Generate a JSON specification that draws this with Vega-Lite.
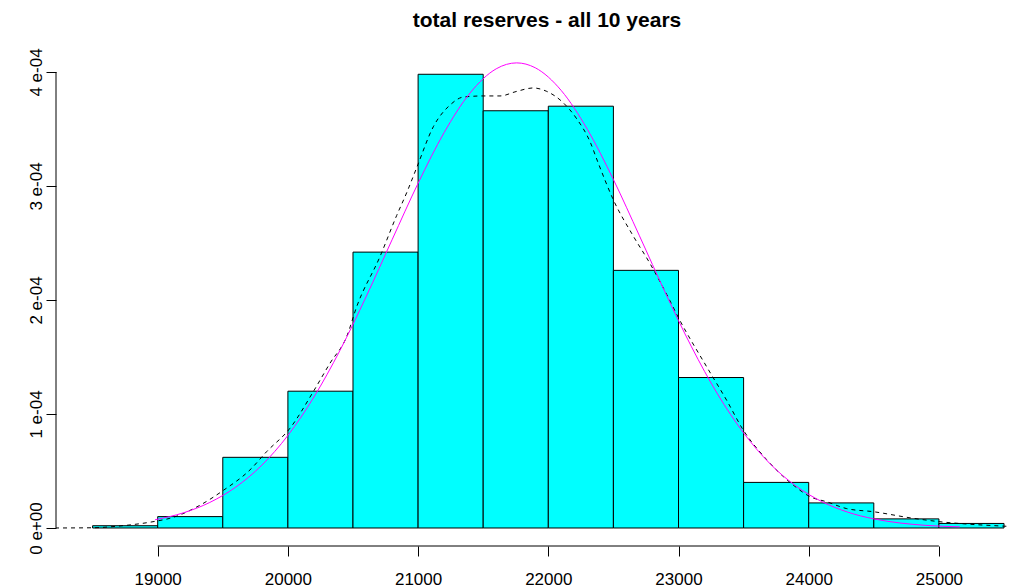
{
  "$schema": "https://vega.github.io/schema/vega-lite/v6.json",
  "width": 954,
  "height": 502,
  "autosize": {"type": "none"},
  "padding": {"left": 56, "top": 44, "right": 0, "bottom": 41},
  "background": "white",
  "config": {"view": {"stroke": null}, "font": "Liberation Sans"},
  "title": {"text": "total reserves - all 10 years", "fontSize": 21, "fontWeight": "bold", "font": "Liberation Sans", "color": "black", "anchor": "middle", "dx": 14, "offset": 13},
  "datasets": {
    "bars": [
      {"start": 18500, "end": 19000, "density": 0.000002},
      {"start": 19000, "end": 19500, "density": 0.000010},
      {"start": 19500, "end": 20000, "density": 0.000062},
      {"start": 20000, "end": 20500, "density": 0.000120},
      {"start": 20500, "end": 21000, "density": 0.000242},
      {"start": 21000, "end": 21500, "density": 0.000398},
      {"start": 21500, "end": 22000, "density": 0.000366},
      {"start": 22000, "end": 22500, "density": 0.000370},
      {"start": 22500, "end": 23000, "density": 0.000226},
      {"start": 23000, "end": 23500, "density": 0.000132},
      {"start": 23500, "end": 24000, "density": 0.000040},
      {"start": 24000, "end": 24500, "density": 0.000022},
      {"start": 24500, "end": 25000, "density": 0.000008},
      {"start": 25000, "end": 25500, "density": 0.000004}
    ],
    "kde": [
      {"x": 18150, "density": 0},
      {"x": 18495, "density": 0.0000002},
      {"x": 18711, "density": 0.0000018},
      {"x": 18992, "density": 0.0000061},
      {"x": 19094, "density": 0.0000085},
      {"x": 19325, "density": 0.000020},
      {"x": 19504, "density": 0.000033},
      {"x": 19709, "density": 0.000051},
      {"x": 19837, "density": 0.000067},
      {"x": 20016, "density": 0.0000875},
      {"x": 20195, "density": 0.0001196},
      {"x": 20323, "density": 0.0001445},
      {"x": 20452, "density": 0.000168},
      {"x": 20528, "density": 0.000194},
      {"x": 20707, "density": 0.000238},
      {"x": 20835, "density": 0.000274},
      {"x": 20912, "density": 0.000294},
      {"x": 20989, "density": 0.000316},
      {"x": 21117, "density": 0.000352},
      {"x": 21245, "density": 0.000371},
      {"x": 21347, "density": 0.000378},
      {"x": 21501, "density": 0.000379},
      {"x": 21629, "density": 0.000379},
      {"x": 21757, "density": 0.000383},
      {"x": 21885, "density": 0.000386},
      {"x": 21988, "density": 0.000383},
      {"x": 22115, "density": 0.000373},
      {"x": 22218, "density": 0.000359},
      {"x": 22320, "density": 0.000339},
      {"x": 22384, "density": 0.000320},
      {"x": 22499, "density": 0.000288},
      {"x": 22653, "density": 0.000256},
      {"x": 22781, "density": 0.000232},
      {"x": 22909, "density": 0.000205},
      {"x": 23011, "density": 0.000182},
      {"x": 23216, "density": 0.0001415},
      {"x": 23370, "density": 0.000112},
      {"x": 23497, "density": 0.000086},
      {"x": 23677, "density": 0.000060},
      {"x": 23881, "density": 0.0000377},
      {"x": 24010, "density": 0.0000275},
      {"x": 24138, "density": 0.000023},
      {"x": 24292, "density": 0.000017},
      {"x": 24496, "density": 0.0000143},
      {"x": 24803, "density": 0.0000085},
      {"x": 25008, "density": 0.0000055},
      {"x": 25213, "density": 0.0000035},
      {"x": 25469, "density": 0.0000018},
      {"x": 25700, "density": 0.0000006}
    ],
    "normal": [
      {"x": 18980, "density": 0.00000725},
      {"x": 19200, "density": 0.0000134},
      {"x": 19400, "density": 0.0000224},
      {"x": 19600, "density": 0.0000359},
      {"x": 19800, "density": 0.0000551},
      {"x": 20000, "density": 0.0000812},
      {"x": 20200, "density": 0.0001149},
      {"x": 20400, "density": 0.0001558},
      {"x": 20600, "density": 0.0002027},
      {"x": 20800, "density": 0.0002528},
      {"x": 21000, "density": 0.0003024},
      {"x": 21200, "density": 0.0003469},
      {"x": 21400, "density": 0.0003817},
      {"x": 21600, "density": 0.0004028},
      {"x": 21757, "density": 0.000408},
      {"x": 21900, "density": 0.0004037},
      {"x": 22100, "density": 0.0003837},
      {"x": 22300, "density": 0.0003497},
      {"x": 22500, "density": 0.0003057},
      {"x": 22700, "density": 0.0002563},
      {"x": 22900, "density": 0.0002061},
      {"x": 23100, "density": 0.0001589},
      {"x": 23300, "density": 0.0001175},
      {"x": 23500, "density": 0.0000834},
      {"x": 23700, "density": 0.0000567},
      {"x": 23900, "density": 0.0000370},
      {"x": 24100, "density": 0.0000232},
      {"x": 24300, "density": 0.0000139},
      {"x": 24500, "density": 0.0000080},
      {"x": 24700, "density": 0.0000044},
      {"x": 24900, "density": 0.0000023},
      {"x": 25160, "density": 0.0000010}
    ]
  },
  "layer": [
    {
      "data": {"name": "bars"},
      "mark": {"type": "rect", "fill": "#00FFFF", "stroke": "black", "strokeWidth": 1},
      "encoding": {
        "x": {
          "field": "start", "type": "quantitative",
          "scale": {"domain": [18219, 25546], "nice": false, "zero": false},
          "axis": {
            "title": null, "values": [19000, 20000, 21000, 22000, 23000, 24000, 25000],
            "format": "d", "domain": false, "grid": false, "tickSize": 10, "tickColor": "black",
            "labelFontSize": 17, "labelColor": "black", "labelPadding": 15,
            "labelFlush": false, "labelOverlap": false, "labelFont": "Liberation Sans"
          }
        },
        "x2": {"field": "end"},
        "y": {
          "field": "density", "type": "quantitative",
          "scale": {"domain": [-0.00001579, 0.00042456], "nice": false, "zero": false},
          "axis": {
            "title": null, "values": [0, 0.0001, 0.0002, 0.0003, 0.0004],
            "domain": false, "grid": false, "tickSize": 10, "tickColor": "black",
            "labelAngle": -90, "labelAlign": "center", "labelBaseline": "alphabetic", "labelPadding": 5,
            "labelExpr": "datum.value == 0 ? '0  e+00' : round(datum.value * 10000) + '  e-04'",
            "labelFontSize": 17, "labelColor": "black", "labelFlush": false, "labelOverlap": false,
            "labelFont": "Liberation Sans"
          }
        },
        "y2": {"datum": 0}
      }
    },
    {
      "data": {"name": "kde"},
      "mark": {"type": "line", "color": "black", "strokeWidth": 1, "strokeDash": [4, 4], "interpolate": "monotone", "clip": true},
      "encoding": {
        "x": {"field": "x", "type": "quantitative"},
        "y": {"field": "density", "type": "quantitative"}
      }
    },
    {
      "data": {"name": "normal"},
      "mark": {"type": "line", "color": "#FF00FF", "strokeWidth": 1, "interpolate": "monotone", "clip": true},
      "encoding": {
        "x": {"field": "x", "type": "quantitative"},
        "y": {"field": "density", "type": "quantitative"}
      }
    },
    {
      "data": {"values": [{}]},
      "mark": {"type": "rule", "color": "black", "strokeWidth": 1},
      "encoding": {
        "x": {"datum": 19000},
        "x2": {"datum": 25000},
        "y": {"datum": -0.00001579}
      }
    },
    {
      "data": {"values": [{}]},
      "mark": {"type": "rule", "color": "black", "strokeWidth": 1},
      "encoding": {
        "x": {"datum": 18219},
        "y": {"datum": 0},
        "y2": {"datum": 0.0004}
      }
    }
  ]
}
